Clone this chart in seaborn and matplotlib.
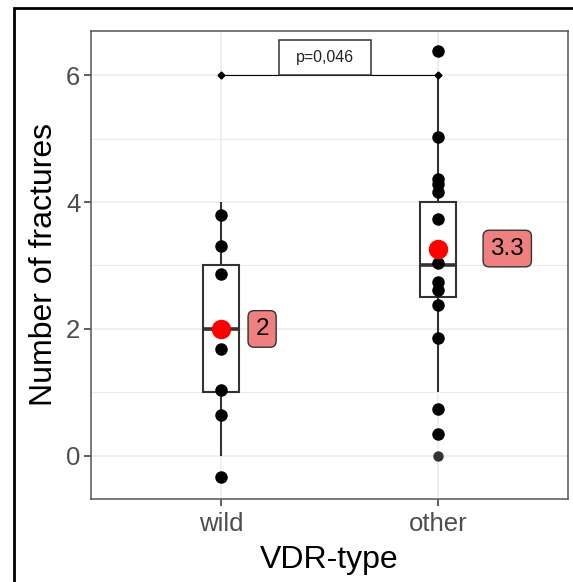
import matplotlib
matplotlib.use('Agg')
import matplotlib.pyplot as plt
from matplotlib.patches import Rectangle
import pandas as pd
import seaborn as sns

# groups on the x axis
groups = ['wild', 'other']

# number of fractures per patient (used for box and mean)
wild_values = [0, 1, 1, 2, 2, 3, 3, 4]
other_values = [0, 1, 2, 2, 3, 3, 3, 3, 4, 4, 4, 4, 5, 5, 6]

# jittered point positions as drawn in the chart
wild_points = [3.80, 3.30, 2.87, 1.69, 1.03, 0.65, -0.34]
other_points = [6.38, 5.02, 4.36, 4.28, 4.16, 3.74, 3.04, 2.74, 2.61, 2.38, 1.85, 0.74, 0.35]

# significance bracket
bracket_y = 6
p_text = 'p=0,046'

y_ticks = [0, 2, 4, 6]
label_dx = [0.19, 0.32]

sns.set_theme(style='white')
plt.rcParams['font.family'] = ['Liberation Sans', 'DejaVu Sans']

box_df = pd.DataFrame({
    'VDR-type': ['wild'] * len(wild_values) + ['other'] * len(other_values),
    'fractures': wild_values + other_values,
})
pts_df = pd.DataFrame({
    'VDR-type': ['wild'] * len(wild_points) + ['other'] * len(other_points),
    'fractures': wild_points + other_points,
})

fig = plt.figure(figsize=(5.73, 5.82), dpi=100)
ax = fig.add_axes([0.1583, 0.1426, 0.8330, 0.8047])

sns.boxplot(data=box_df, x='VDR-type', y='fractures', order=groups, width=0.166,
            color='white', linecolor='#333333', linewidth=1.5, showcaps=False,
            medianprops={'linewidth': 2.6},
            flierprops={'marker': 'o', 'markerfacecolor': '#333333',
                        'markeredgecolor': '#333333', 'markersize': 6.5},
            ax=ax)
sns.stripplot(data=pts_df, x='VDR-type', y='fractures', order=groups, jitter=False,
              color='black', size=9, linewidth=0, zorder=3, ax=ax)
sns.pointplot(data=box_df, x='VDR-type', y='fractures', order=groups, estimator='mean',
              errorbar=None, color='red', linestyle='none', markersize=12, zorder=5, ax=ax)

# mean labels
means = box_df.groupby('VDR-type')['fractures'].mean()
for i, g in enumerate(groups):
    m = means[g]
    ax.text(i + label_dx[i], m, f'{round(m, 1):g}', ha='center', va='center',
            fontsize=17.5, color='black', zorder=6,
            bbox=dict(boxstyle='round,pad=0.3,rounding_size=0.25', facecolor='#F08080',
                      edgecolor='#333333', linewidth=1.0))

# significance bracket and p-value box
ax.plot([0, 1], [bracket_y, bracket_y], color='black', lw=0.8, marker='D',
        markersize=3.5, zorder=4)
ax.add_patch(Rectangle((0.267, bracket_y), 0.426, 0.56, facecolor='white',
                       edgecolor='#333333', linewidth=1.1, zorder=4))
ax.text(0.48, bracket_y + 0.28, p_text, ha='center', va='center', fontsize=11.5,
        color='#222222', zorder=5)

ax.set_xlim(-0.6, 1.6)
ax.set_ylim(-0.68, 6.70)
ax.set_yticks(y_ticks)
ax.set_yticks([1, 3, 5], minor=True)
ax.grid(True, which='major', color='#EBEBEB', linewidth=1.1)
ax.grid(True, which='minor', axis='y', color='#EBEBEB', linewidth=0.8)
ax.set_axisbelow(True)

for s in ax.spines.values():
    s.set_color('#555555')
    s.set_linewidth(1.1)

ax.tick_params(which='major', length=5, width=1.1, color='#333333',
               labelsize=18.5, labelcolor='#4D4D4D', bottom=True, left=True)
ax.tick_params(axis='x', pad=4.5)
ax.tick_params(axis='y', pad=2.5)
ax.tick_params(which='minor', length=0)
ax.set_xlabel('VDR-type', fontsize=23, color='black', labelpad=6)
ax.set_ylabel('Number of fractures', fontsize=23, color='black', labelpad=5)

# outer frame of the figure
fig.patches.append(Rectangle((14 / 573, -0.5), 2, 1 - 8 / 582 + 0.5,
                             transform=fig.transFigure, fill=False,
                             edgecolor='black', linewidth=2.0))

fig.savefig('out.png', dpi=100, facecolor='white')
